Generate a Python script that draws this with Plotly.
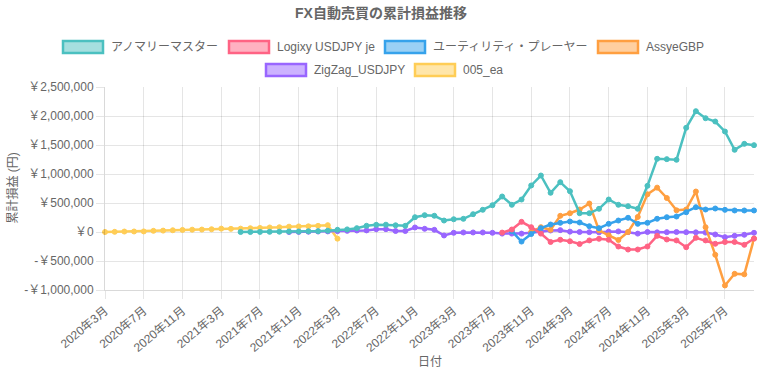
import plotly.graph_objects as go

# ---- data ----
months = [f"{y}年{m}月" for y in range(2020, 2026) for m in range(1, 13)]
months = months[months.index("2020年3月"): months.index("2025年10月") + 1]

N = None
anomaly = [N]*14 + [0, 0, 2000, 3000, 5000, 8000, 8000, 12000, 15000, 22000,
                    38000, 45000, 66000, 107000, 124000, 126000, 116000, 107000, 255000, 290000,
                    280000, 198000, 220000, 227000, 307000, 383000, 462000, 612000, 469000, 560000,
                    802000, 974000, 676000, 859000, 703000, 324000, 324000, 400000, 560000, 469000,
                    445000, 400000, 796000, 1262000, 1256000, 1245000, 1797000, 2083000, 1962000, 1905000,
                    1733000, 1417000, 1520000, 1497000]
logixy = [N]*41 + [-10000, 43000, 175000, 83000, -28000, -172000, -134000, -160000, -207000, -145000,
                   -117000, -134000, -250000, -302000, -302000, -250000, -66000, -129000, -145000, -262000,
                   -100000, -145000, -203000, -172000, -172000, -221000, -114000]
utility = [N]*42 + [15000, -165000, -35000, 66000, 129000, 158000, 181000, 164000, 100000, 66000,
                    141000, 198000, 245000, 141000, 158000, 228000, 255000, 267000, 341000, 428000,
                    388000, 405000, 382000, 371000, 371000, 371000]
assye = [N]*44 + [0, 83000, 38000, 279000, 324000, 388000, 491000, 29000, -57000, -138000,
                  0, 259000, 650000, 765000, 586000, 374000, 388000, 698000, 83000, -393000,
                  -922000, -721000, -730000, -114000]
zigzag = [N]*19 + [0, 2000, 5000, 8000, 10000, 15000, 20000, 26000, 28000, 49000,
                   49000, 17000, 17000, 78000, 55000, 38000, -60000, -14000, -8000, -8000,
                   -8000, -14000, -28000, -28000, -28000, -14000, 6000, 26000, 32000, 6000,
                   0, -3000, -6000, 6000, 10000, -3000, -28000, 0, -6000, -3000,
                   0, -3000, -6000, -10000, -43000, -89000, -66000, -48000, -14000]
ea005 = [0, 3000, 8000, 9000, 10000, 20000, 24000, 30000, 36000, 40000,
         42000, 48000, 58000, 54000, 58000, 65000, 70000, 78000, 82000, 92000,
         96000, 98000, 106000, 118000, -115000] + [N]*43

series_names = ["アノマリーマスター", "Logixy USDJPY je", "ユーティリティ・プレーヤー",
                "AssyeGBP", "ZigZag_USDJPY", "005_ea"]
series_values = [anomaly, logixy, utility, assye, zigzag, ea005]
line_colors = ["rgb(75,192,192)", "rgb(255,99,132)", "rgb(54,162,235)",
               "rgb(255,159,64)", "rgb(153,102,255)", "rgb(255,205,86)"]
fill_colors = ["rgba(75,192,192,0.5)", "rgba(255,99,132,0.5)", "rgba(54,162,235,0.5)",
               "rgba(255,159,64,0.5)", "rgba(153,102,255,0.5)", "rgba(255,205,86,0.5)"]

y_ticks = [-1000000, -500000, 0, 500000, 1000000, 1500000, 2000000, 2500000]
y_ticktext = ["-￥1,000,000", "-￥500,000", "￥0", "￥500,000", "￥1,000,000",
              "￥1,500,000", "￥2,000,000", "￥2,500,000"]
x_ticks = months[::4]

# ---- layout geometry (pixels) ----
W, H = 763, 372
L, R, T, B = 105, 9, 87, 82
PW, PH = W - L - R, H - T - B

def px(x):
    return (x - L) / PW

def py(y):
    return (H - B - y) / PH

FONT = "'Liberation Sans', Arial, 'Noto Sans CJK JP', sans-serif"
GREY = "#666666"

fig = go.Figure()
for name, vals, lc, fc in reversed(list(zip(series_names, series_values, line_colors, fill_colors))):
    fig.add_trace(go.Scatter(
        x=months, y=vals, name=name, mode="lines+markers",
        line=dict(color=lc, width=2.5),
        marker=dict(size=5, color=lc, line=dict(color=lc, width=1)),
        cliponaxis=False, showlegend=False, connectgaps=False,
    ))

# custom Chart.js-like legend
legend_pos = [(63, 47), (229, 47), (385, 47), (598, 47), (266, 70), (415, 70)]
shapes = []
annotations = []
for (bx, by), name, lc, fc in zip(legend_pos, series_names, line_colors, fill_colors):
    shapes.append(dict(type="rect", xref="paper", yref="paper",
                       x0=px(bx), x1=px(bx + 40), y0=py(by + 6), y1=py(by - 6),
                       fillcolor=fc, line=dict(color=lc, width=2.5)))
    annotations.append(dict(xref="paper", yref="paper", x=px(bx + 46), y=py(by),
                            xanchor="left", yanchor="middle", showarrow=False,
                            text=name, font=dict(size=12, color=GREY, family=FONT)))

annotations.append(dict(xref="paper", yref="paper", x=px(12), y=0.5, textangle=-90,
                        xanchor="center", yanchor="middle", showarrow=False,
                        text="累計損益 (円)", font=dict(size=12, color=GREY, family=FONT)))
annotations.append(dict(xref="paper", yref="paper", x=0.5, y=py(362),
                        xanchor="center", yanchor="middle", showarrow=False,
                        text="日付", font=dict(size=12, color=GREY, family=FONT)))
annotations.append(dict(xref="paper", yref="paper", x=px(381), y=py(13),
                        xanchor="center", yanchor="middle", showarrow=False,
                        text="<b>FX自動売買の累計損益推移</b>", font=dict(size=14, color=GREY, family=FONT)))

fig.update_layout(
    width=W, height=H,
    margin=dict(l=L, r=R, t=T, b=B),
    paper_bgcolor="white", plot_bgcolor="white",
    font=dict(family=FONT, size=12, color=GREY),
    shapes=shapes, annotations=annotations,
    showlegend=False,
    xaxis=dict(type="category", categoryorder="array", categoryarray=months,
               range=[0, len(months) - 1], tickmode="array", tickvals=x_ticks, ticktext=x_ticks,
               tickangle=-40, showgrid=True, gridcolor="rgba(0,0,0,0.1)", gridwidth=1,
               ticks="outside", ticklen=8, tickcolor="rgba(0,0,0,0.1)",
               showline=True, linecolor="rgba(0,0,0,0.15)", linewidth=1,
               tickfont=dict(size=12, color=GREY), zeroline=False),
    yaxis=dict(range=[-1000000, 2500000], tickmode="array", tickvals=y_ticks, ticktext=y_ticktext,
               showgrid=True, gridcolor="rgba(0,0,0,0.1)", gridwidth=1,
               ticks="outside", ticklen=8, tickcolor="rgba(0,0,0,0.1)",
               showline=True, linecolor="rgba(0,0,0,0.15)", linewidth=1,
               tickfont=dict(size=12, color=GREY), zeroline=False),
)

fig.write_html("out.html", config={"displayModeBar": False},
               post_script="document.body.style.margin='0';document.body.style.overflow='hidden';")
